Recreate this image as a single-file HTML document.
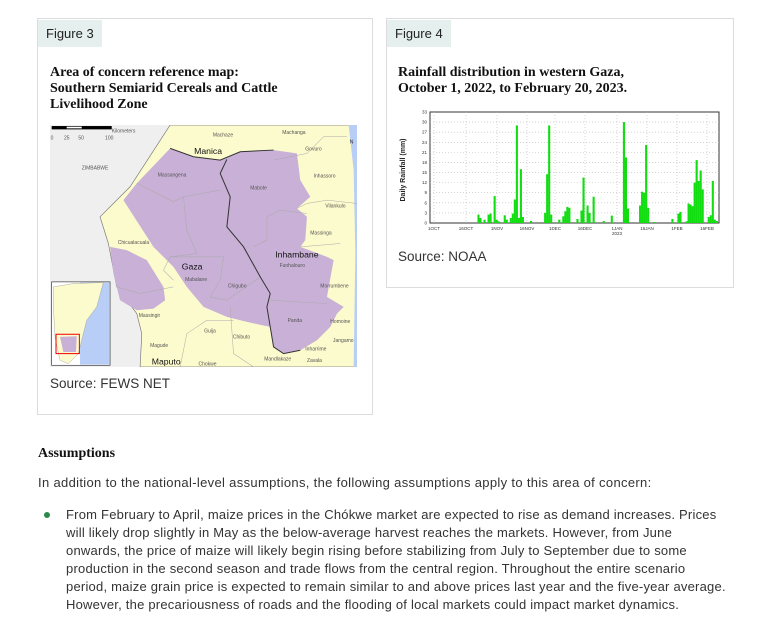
<!DOCTYPE html>
<html><head><meta charset="utf-8"><style>
body{margin:0;width:764px;height:623px;background:#fff;position:relative;overflow:hidden;font-family:"Liberation Sans",sans-serif;color:#333}
.box{position:absolute;border:1px solid #dcdcdc;background:#fff}
.tab{position:absolute;background:#e5efed;font-size:13px;color:#222;padding:0 8px;line-height:27px}
.title{position:absolute;font-family:"Liberation Serif",serif;font-weight:bold;font-size:14px;line-height:16px;color:#111}
.src{position:absolute;font-size:13.5px;color:#333}
p{margin:0}
</style></head><body>
<div class="box" style="left:37px;top:18px;width:334px;height:395px"></div>
<div class="tab" style="left:38px;top:20px">Figure 3</div>
<div class="title" style="left:50px;top:65px">Area of concern reference map:<br>Southern Semiarid Cereals and Cattle<br>Livelihood Zone</div>
<svg style="position:absolute;left:50px;top:125px" width="307" height="242" viewBox="30 15 920 725">
<rect x="30" y="15" width="920" height="725" fill="#efefef"/>
<path d="M390,15 L935,15 L945,120 L950,740 L300,740 L305,640 L290,580 L230,500 L205,370 L180,290 L270,200 Z" fill="#fcfbcd" stroke="#777" stroke-width="2"/>
<path d="M925,15 L950,15 L950,740 L940,740 L945,400 L940,150 Z" fill="#b9cef6"/>
<path d="M250,240 L290,190 L390,85 L460,110 L540,120 L600,95 L700,90 L770,100 L780,180 L810,230 L770,265 L800,290 L795,360 L780,380 L860,410 L880,420 L860,530 L910,560 L890,580 L870,620 L830,660 L780,690 L730,700 L700,680 L690,620 L620,605 L560,590 L490,560 L440,500 L400,440 L340,380 Z" fill="#c8b0d6"/>
<path d="M210,380 L260,390 L320,420 L370,500 L375,540 L340,565 L290,570 L240,540 L220,460 Z" fill="#c8b0d6"/>
<g fill="none" stroke="#aaa" stroke-width="1.5">
<path d="M290,190 L400,245 L430,230 L540,210"/><path d="M430,230 L440,330 L470,400 L390,410 L370,450 L400,480"/><path d="M390,410 L550,410 L540,480 L510,530 L560,540 L660,470"/><path d="M640,380 L680,360 L680,290 L720,270 L800,280"/><path d="M690,540 L860,550"/><path d="M230,500 L300,520 L400,500"/><path d="M770,265 L800,250 L860,240 L950,250"/><path d="M780,380 L900,370"/><path d="M420,740 L440,640 L500,600 L580,600"/><path d="M570,560 L580,700 L640,740"/><path d="M700,120 L800,100 L850,50 L920,50"/>
</g>
<path d="M560,118 L540,160 L570,230 L560,320 L610,380 L660,470 L690,520 L680,560 L690,620 L700,680 L730,700 L780,690" fill="none" stroke="#333" stroke-width="3"/>
<path d="M390,85 L460,110 L540,120 L600,95 L700,90" fill="none" stroke="#333" stroke-width="3"/>
<rect x="35" y="18" width="180" height="10" fill="#000"/><rect x="80" y="20" width="45" height="5" fill="#fff"/>
<g font-family="Liberation Sans,sans-serif" fill="#555" font-size="15">
<text x="215" y="37">Kilometers</text><text x="32" y="58">0</text><text x="72" y="58">25</text><text x="115" y="58">50</text><text x="195" y="58">100</text>
<text x="125" y="148">ZIMBABWE</text>
<text x="518" y="50">Machaze</text><text x="726" y="42">Machanga</text><text x="795" y="92">Govuro</text><text x="820" y="172">Inhassoro</text><text x="855" y="262">Vilankulo</text><text x="810" y="343">Massinga</text>
<text x="353" y="170">Massangena</text><text x="630" y="208">Mabote</text><text x="233" y="372">Chicualacuala</text><text x="718" y="440">Funhalouro</text><text x="435" y="482">Mabalane</text><text x="563" y="502">Chigubo</text><text x="840" y="502">Morrumbene</text><text x="296" y="590">Massingir</text><text x="742" y="606">Panda</text><text x="870" y="608">Homoine</text><text x="492" y="637">Guija</text><text x="578" y="655">Chibuto</text><text x="878" y="665">Jangamo</text><text x="330" y="680">Magude</text><text x="795" y="690">Inharrime</text><text x="475" y="735">Chokwe</text><text x="672" y="720">Mandlakaze</text><text x="800" y="725">Zavala</text>
</g>
<g font-family="Liberation Sans,sans-serif" fill="#111" font-size="26"><text x="462" y="102">Manica</text><text x="425" y="448">Gaza</text><text x="705" y="412">Inhambane</text><text x="335" y="732">Maputo</text></g>
<text x="928" y="70" font-size="16" fill="#333">N</text>
<rect x="35" y="485" width="175" height="250" fill="#fff" stroke="#333" stroke-width="2"/>
<rect x="120" y="487" width="88" height="246" fill="#b9cef6"/>
<path d="M40,500 L100,490 L190,487 L170,560 L140,600 L130,640 L115,700 L85,730 L60,720 L45,650 L40,560 Z" fill="#fcfbcd" stroke="#888"/>
<path d="M60,650 L110,648 L108,695 L70,695 Z" fill="#c8b0d6"/>
<rect x="48" y="642" width="70" height="58" fill="none" stroke="#e00" stroke-width="3"/>
</svg>
<div class="src" style="left:50px;top:376px">Source: FEWS NET</div>

<div class="box" style="left:386px;top:18px;width:346px;height:268px"></div>
<div class="tab" style="left:387px;top:20px">Figure 4</div>
<div class="title" style="left:398px;top:65px">Rainfall distribution in western Gaza,<br>October 1, 2022, to February 20, 2023.</div>
<svg id="ch" style="position:absolute;left:385px;top:100px" width="340" height="170" font-family="Liberation Sans,sans-serif">
<rect x="45" y="12" width="289" height="111" fill="#fff" stroke="#333" stroke-width="1"/>
<g id="grid" stroke="#bbb" stroke-dasharray="1,2" stroke-width="0.6"></g>
<g id="bars" fill="#11dd11"></g>
<g id="lab" font-size="4.5" fill="#333"></g>
<text transform="translate(20,70) rotate(-90)" text-anchor="middle" font-size="7" font-weight="bold" fill="#222">Daily Rainfall (mm)</text>
</svg>
<div class="src" style="left:398px;top:249px">Source: NOAA</div>

<div style="position:absolute;left:38px;top:446px;font-family:'Liberation Serif',serif;font-weight:bold;font-size:14px;color:#111">Assumptions</div>
<div style="position:absolute;left:38px;top:475px;font-size:13px;letter-spacing:0.33px;color:#333;white-space:nowrap">In addition to the national-level assumptions, the following assumptions apply to this area of concern:</div>
<div style="position:absolute;left:44px;top:512px;width:6px;height:6px;border-radius:50%;background:#2a8a4a"></div>
<div style="position:absolute;left:66px;top:506px;font-size:13px;letter-spacing:0.22px;line-height:18px;color:#333;white-space:nowrap">From February to April, maize prices in the Chókwe market are expected to rise as demand increases. Prices<br>will likely drop slightly in May as the below-average harvest reaches the markets. However, from June<br>onwards, the price of maize will likely begin rising before stabilizing from July to September due to some<br>production in the second season and trade flows from the central region. Throughout the entire scenario<br>period, maize grain price is expected to remain similar to and above prices last year and the five-year average.<br>However, the precariousness of roads and the flooding of local markets could impact market dynamics.</div>
<script>
var NS="http://www.w3.org/2000/svg";
function el(p,t,a,txt){var e=document.createElementNS(NS,t);for(var k in a)e.setAttribute(k,a[k]);if(txt)e.textContent=txt;document.getElementById(p).appendChild(e);}
var y0=123,s=111/33;
for(var v=0;v<=33;v+=3){var y=y0-v*s;if(v>0&&v<33)el("grid","line",{x1:45,x2:334,y1:y,y2:y});el("lab","text",{x:42,y:y+1.5,"text-anchor":"end"},String(v));}
var labs=["1OCT","16OCT","1NOV","16NOV","1DEC","16DEC","1JAN","16JAN","1FEB","16FEB"],lx=[49,81,112,142,170,200,232,262,292,322];
for(var i=0;i<labs.length;i++){el("grid","line",{x1:lx[i],x2:lx[i],y1:12,y2:123});el("lab","text",{x:lx[i],y:130,"text-anchor":"middle"},labs[i]);}
el("lab","text",{x:232,y:135,"text-anchor":"middle"},"2023");
var d=[[22,2.5],[23,1.5],[25,1],[27,2.5],[28,2.8],[30,8],[31,1],[32,0.5],[35,2.3],[36,1],[38,1.5],[39,2.8],[40,7],[41,29],[42,1.5],[43,16],[44,1.8],[48,0.6],[55,3],[56,14.5],[57,29],[58,2.5],[62,1],[64,2],[65,3.5],[66,4.8],[67,4.5],[71,1.2],[73,3.7],[74,13.5],[76,5.2],[77,3],[79,7.8],[84,0.6],[88,2.2],[94,30],[95,19.5],[96,4.3],[102,5.2],[103,9.3],[104,9],[105,23.2],[106,4.5],[109,0.3],[118,1.2],[121,2.8],[122,3.3],[125,0.5],[126,5.8],[127,5.5],[128,5],[129,12],[130,18.7],[131,12.5],[132,15.6],[133,10],[136,1.8],[137,2.3],[138,12.5],[139,1],[140,0.6]];
d.forEach(function(b){var h=b[1]*s;el("bars","rect",{x:48+b[0]*2.02,y:y0-h,width:2.1,height:h});});
</script>
</body></html>
